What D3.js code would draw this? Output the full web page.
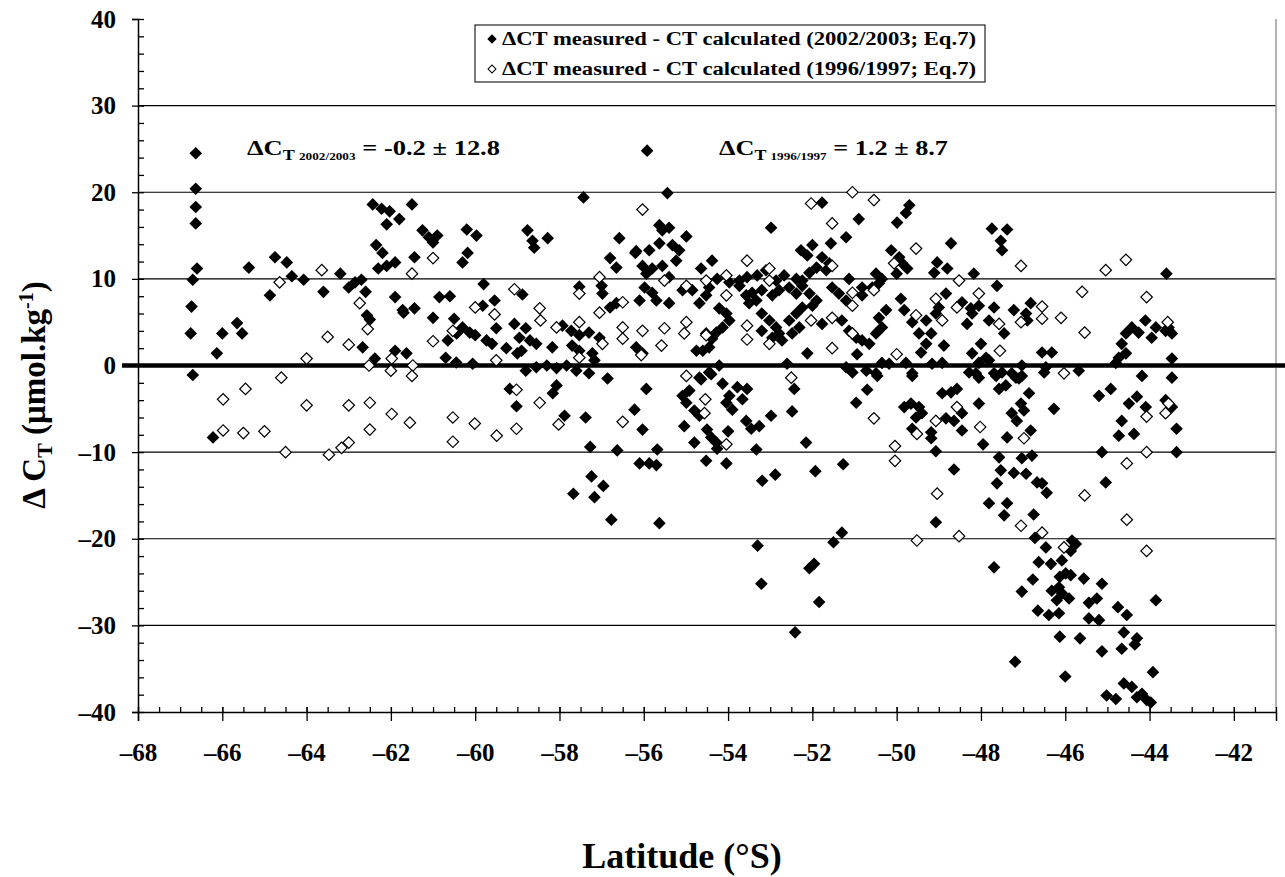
<!DOCTYPE html>
<html lang="en">
<head>
<meta charset="UTF-8">
<title>Delta CT vs latitude</title>
<script src="https://cdn.jsdelivr.net/npm/d3@7"></script>
<style>
  body { margin: 0; background: #fff; }
  text { font-family: "Liberation Serif", "Times New Roman", serif; font-weight: bold; fill: #000; }
</style>
</head>
<body>
<div id="chart"></div>
<script>
// ΔCT measured - CT calculated, 2002/2003 (filled diamonds) : [latitude, ΔCT]
const filled2002 = [
  [-66.63,24.5],[-66.63,20.4],[-66.63,18.3],[-66.63,16.4],[-66.6,11.2],[-66.7,9.9],[-66.73,6.8],[-66.75,3.7],[-66.7,-1.1],[-66.22,-8.3],
  [-66.13,1.4],[-66.0,3.7],[-65.65,4.9],[-65.53,3.7],[-65.37,11.3],[-64.87,8.1],[-64.75,12.5],[-64.47,11.9],[-64.35,10.3],[-64.07,9.9],
  [-63.6,8.5],[-63.2,10.6],[-63.0,9.0],[-62.85,9.6],[-62.7,9.9],[-62.6,8.5],[-62.57,5.8],[-62.5,5.3],[-62.67,2.1],[-62.38,0.8],
  [-62.43,18.6],[-62.22,18.1],[-62.03,17.8],[-62.1,16.3],[-61.8,16.9],[-62.35,13.9],[-62.2,13.0],[-62.3,11.2],[-62.1,11.5],[-61.9,11.9],
  [-61.9,7.9],[-61.7,6.1],[-61.44,6.6],[-61.9,1.7],[-61.63,1.4],[-61.5,18.6],[-61.44,12.5],[-61.25,15.6],[-61.1,14.8],[-60.9,15.0],
  [-61.0,5.5],[-60.85,7.9],[-60.7,0.9],[-60.65,2.9],[-61.0,14.2],[-60.2,15.7],[-59.97,15.0],[-60.18,13.0],[-60.3,11.9],[-58.76,15.6],
  [-58.64,14.4],[-58.6,13.6],[-58.28,14.7],[-57.43,19.4],[-56.58,14.7],[-56.8,12.4],[-56.65,11.3],[-56.2,13.0],[-59.8,9.4],[-61.72,6.4],
  [-60.6,8.0],[-60.5,5.4],[-59.82,6.9],[-59.54,7.5],[-58.88,8.2],[-57.53,9.1],[-57.0,9.2],[-56.98,8.3],[-56.8,6.7],[-56.65,7.2],
  [-60.3,4.4],[-60.44,3.7],[-60.13,3.8],[-60.0,3.5],[-59.73,2.9],[-59.5,4.3],[-59.6,2.5],[-59.07,4.8],[-58.8,4.3],[-58.95,3.2],
  [-58.7,2.9],[-58.55,2.5],[-59.26,2.0],[-59.0,1.4],[-58.9,1.7],[-58.17,2.1],[-57.93,4.6],[-57.72,4.0],[-57.53,3.5],[-57.3,3.8],
  [-57.05,3.2],[-57.7,2.3],[-57.53,1.7],[-57.22,1.4],[-57.17,0.6],[-60.45,0.35],[-60.06,0.2],[-58.8,-0.6],[-58.55,-0.2],[-58.3,0],
  [-58.07,-0.3],[-57.83,0],[-57.6,-0.6],[-57.3,-0.9],[-56.86,-1.5],
  [-55.92,24.8],[-55.44,19.9],[-51.77,18.8],[-50.9,16.9],[-52.98,15.9],[-55.63,16.2],[-55.4,15.9],[-55.56,15.6],[-54.99,14.9],[-51.2,14.8],
  [-56.18,13.2],[-55.87,13.3],[-55.63,14.1],[-55.32,13.9],[-55.16,13.3],[-55.23,12.1],[-56.03,11.5],[-55.94,10.6],[-55.8,11.2],[-55.56,11.5],
  [-55.4,10.2],[-54.64,11.2],[-54.38,12.1],[-52.27,13.3],[-52.0,13.9],[-52.12,12.7],[-51.56,14.1],[-51.77,12.5],[-51.6,11.8],[-51.67,11.0],
  [-51.9,11.3],[-52.07,10.7],[-52.24,9.8],[-54.26,10.0],[-53.97,9.6],[-53.73,9.8],[-53.55,10.2],[-53.31,10.4],[-53.1,11.0],[-52.86,9.8],
  [-52.67,10.4],[-52.38,10.0],[-51.13,10.0],[-50.82,9.0],[-50.49,10.6],[-50.35,10.0],[-55.98,9.0],[-55.8,8.4],[-56.1,7.5],[-55.7,7.5],
  [-55.4,7.2],[-55.08,8.7],[-54.85,8.7],[-54.68,7.2],[-54.52,8.1],[-54.45,9.0],[-53.73,9.2],[-53.57,8.1],[-53.43,8.4],[-53.2,8.7],
  [-53.33,7.5],[-53.5,7.2],[-52.95,8.1],[-52.79,8.7],[-52.55,9.0],[-52.38,8.3],[-52.24,9.2],[-52.07,8.3],[-51.9,7.5],[-52.0,6.9],
  [-51.53,9.0],[-51.37,8.3],[-51.2,7.5],[-50.82,8.1],[-50.58,9.0],[-54.21,6.6],[-54.04,6.0],[-53.97,5.2],[-54.13,4.4],[-54.28,3.8],
  [-54.38,3.1],[-54.45,2.1],[-54.6,1.7],[-54.75,1.7],[-54.52,3.7],[-53.2,6.0],[-53.02,5.2],[-52.86,4.4],[-52.79,3.7],[-52.72,2.9],
  [-52.95,3.2],[-53.2,4.0],[-52.55,5.2],[-52.38,6.0],[-52.24,6.7],[-52.31,4.4],[-52.48,3.7],[-51.77,4.8],[-51.3,5.2],[-51.13,4.0],
  [-50.96,3.2],[-50.82,2.9],[-50.65,2.5],[-50.49,3.7],[-50.35,4.4],[-50.42,5.5],[-50.25,6.4],[-56.18,2.1],[-56.03,1.4],[-52.12,1.4],
  [-50.94,1.3],[-54.21,0],[-54.45,-0.8],[-54.68,-1.4],[-52.6,0.2],[-51.2,-0.2],[-51.05,-0.8],[-50.72,-0.6],[-50.49,-0.9],[-50.35,0.3],
  [-49.7,18.5],[-49.78,17.6],[-49.99,16.5],[-47.74,15.8],[-47.38,15.7],[-47.53,14.4],[-47.5,13.3],[-48.71,14.1],[-50.13,13.3],[-49.94,12.5],
  [-49.87,11.8],[-49.75,11.2],[-50.0,10.6],[-49.04,11.9],[-49.11,10.7],[-48.8,11.2],[-48.17,10.6],[-43.6,10.6],[-50.42,9.5],[-47.62,9.2],
  [-49.9,7.7],[-49.82,6.4],[-48.83,8.3],[-49.0,6.7],[-49.07,6.0],[-49.3,5.2],[-49.63,5.0],[-49.47,3.7],[-49.18,3.7],[-49.3,2.5],
  [-49.42,1.5],[-48.88,2.3],[-48.45,7.3],[-48.24,6.6],[-48.05,6.9],[-48.21,6.0],[-48.33,4.8],[-47.81,5.2],[-47.69,6.7],[-47.45,3.7],
  [-48.0,2.5],[-48.21,1.4],[-47.88,0.9],[-47.22,6.4],[-46.93,6.0],[-46.82,7.2],[-46.9,5.2],[-46.55,1.5],[-46.32,1.5],[-44.56,3.7],
  [-44.42,4.4],[-44.26,3.8],[-44.1,5.2],[-43.85,4.4],[-43.95,3.2],[-43.62,4.0],[-43.47,3.7],[-43.55,4.4],[-44.66,2.5],[-44.56,1.4],
  [-44.73,0.9],[-44.8,0.3],[-43.47,0.8],[-50.18,0.2],[-49.78,0.3],[-49.16,0.2],[-48.92,0.3],[-48.05,0.3],[-47.81,0.6],[-47.03,0],
  [-46.46,-0.2],[-45.68,-0.6],[-49.63,-0.9],[-48.28,-0.8],[-48.05,-1.4],[-47.64,-1.2],[-47.17,-1.4],[-47.03,-1.2],[-44.18,-1.2],[-43.47,-1.4],
  [-55.94,-2.7],[-54.64,-1.6],[-54.4,-1.0],[-54.13,-2.1],[-53.78,-2.5],[-53.55,-2.7],[-53.97,-3.5],[-54.04,-4.3],[-53.66,-3.9],[-53.9,-5.1],
  [-55.08,-3.5],[-54.92,-2.9],[-54.99,-4.3],[-54.8,-5.2],[-54.68,-5.8],[-56.22,-5.1],[-56.03,-7.4],[-55.04,-7.0],[-54.5,-7.4],[-54.4,-8.3],
  [-54.28,-8.9],[-54.26,-9.6],[-54.8,-8.9],[-54.0,-7.6],[-53.57,-6.4],[-53.45,-7.3],[-53.26,-7.0],[-52.98,-5.8],[-52.43,-2.7],[-52.48,-5.3],
  [-53.33,-9.7],[-52.15,-8.9],[-50.96,-4.3],[-50.7,-2.8],[-50.46,-1.2],[-55.68,-9.7],[-56.1,-11.3],[-55.87,-11.3],[-55.7,-11.5],[-54.52,-11.0],
  [-54.04,-11.3],[-53.19,-13.3],[-52.88,-12.6],[-51.93,-12.2],[-51.27,-11.4],[-55.63,-18.2],[-53.3,-20.8],[-51.5,-20.4],[-51.3,-19.3],[-51.96,-22.9],
  [-52.07,-23.4],[-59.18,-2.7],[-59.02,-4.7],[-58.16,-3.2],[-58.07,-2.3],[-57.88,-5.8],[-57.38,-6.0],[-57.27,-9.4],[-56.63,-9.8],[-57.24,-12.8],
  [-56.96,-13.9],[-57.67,-14.8],[-57.17,-15.2],[-56.77,-17.8],[-53.21,-25.2],[-52.41,-30.8],[-51.84,-27.3],
  [-49.63,-1.2],[-48.12,-0.9],[-47.69,-0.9],[-47.5,-0.8],[-47.27,-0.9],[-47.1,-1.5],[-47.41,-2.3],[-47.57,-2.7],[-46.86,-3.2],[-46.5,-0.8],
  [-48.92,-3.2],[-48.71,-3.1],[-48.57,-2.7],[-49.82,-4.8],[-49.66,-4.4],[-49.47,-4.8],[-49.4,-5.5],[-49.54,-6.0],[-49.63,-7.3],[-49.18,-7.7],
  [-49.18,-8.4],[-48.83,-6.1],[-48.64,-6.4],[-48.45,-5.5],[-48.45,-7.5],[-48.05,-4.4],[-47.38,-8.3],[-47.05,-4.4],[-46.98,-5.2],[-47.27,-5.5],
  [-47.15,-6.4],[-46.82,-7.5],[-46.27,-5.0],[-47.95,-9.1],[-49.07,-9.9],[-48.64,-12.0],[-47.57,-10.6],[-47.53,-12.1],[-47.22,-12.4],[-46.93,-12.5],
  [-47.03,-10.7],[-46.79,-10.4],[-47.62,-13.6],[-46.67,-13.5],[-46.55,-13.6],[-46.44,-14.7],[-47.81,-15.9],[-47.38,-15.9],[-47.45,-17.3],[-46.75,-17.2],
  [-49.07,-18.1],[-46.72,-19.9],[-46.46,-21.0],[-45.84,-20.2],[-45.75,-20.6],[-45.87,-21.4],[-46.63,-22.7],[-46.34,-22.9],[-46.08,-22.5],[-47.69,-23.3],
  [-45.13,-10.0],[-45.04,-13.5],[-45.2,-3.5],[-44.92,-2.7],[-44.49,-4.4],[-44.3,-3.6],[-44.09,-4.8],[-44.66,-6.4],[-44.73,-8.1],[-44.37,-7.9],
  [-43.62,-4.0],[-43.47,-4.8],[-43.36,-7.3],[-43.36,-10.0],
  [-46.13,-24.4],[-45.99,-24.0],[-45.87,-24.2],[-46.32,-26.0],[-46.15,-25.6],[-46.08,-26.3],[-46.2,-27.1],[-45.91,-26.9],[-45.56,-24.6],[-45.13,-25.2],
  [-45.44,-27.4],[-45.25,-26.9],[-46.65,-28.3],[-46.39,-28.8],[-46.15,-28.6],[-45.44,-29.2],[-45.2,-29.4],[-44.75,-27.9],[-44.54,-28.8],[-43.85,-27.1],
  [-44.61,-30.8],[-44.3,-31.5],[-44.35,-32.2],[-46.13,-31.3],[-45.65,-31.5],[-45.13,-33.0],[-44.66,-32.7],[-47.19,-34.2],[-46.0,-35.9],[-43.92,-35.4],
  [-44.61,-36.7],[-44.42,-37.1],[-45.02,-38.1],[-44.8,-38.5],[-44.3,-38.3],[-44.18,-37.9],[-44.07,-38.6],[-43.97,-38.9],[-47.03,-26.1],[-46.77,-24.7]
];

// ΔCT measured - CT calculated, 1996/1997 (open diamonds) : [latitude, ΔCT]
const open1996 = [
  [-64.64,9.6],[-63.64,11.0],[-63.5,3.3],[-64.0,0.8],[-63.0,2.4],[-62.74,7.2],[-62.55,4.2],[-61.98,0.8],[-61.5,10.6],[-61.0,12.4],
  [-61.0,2.8],[-62.52,0.0],[-61.48,0.0],[-64.6,-1.4],[-65.98,-3.9],[-65.45,-2.7],[-65.98,-7.5],[-65.5,-7.8],[-65.0,-7.6],[-64.5,-10.0],
  [-64.0,-4.6],[-63.47,-10.3],[-63.17,-9.5],[-63.0,-8.9],[-63.0,-4.6],[-62.5,-4.3],[-62.5,-7.4],[-61.98,-5.6],[-61.55,-6.6],[-62.0,-0.6],
  [-61.5,-1.2],[-59.07,8.8],[-60.0,6.7],[-59.54,5.9],[-58.47,6.6],[-58.45,5.2],[-57.53,8.3],[-57.05,6.1],[-56.5,7.3],[-56.5,4.4],
  [-56.5,3.1],[-60.53,4.0],[-59.5,0.6],[-58.07,4.4],[-57.53,5.0],[-57.53,0.9],[-56.98,2.5],[-57.05,10.2],
  [-56.03,18.0],[-52.03,18.7],[-51.05,20.0],[-50.54,19.1],[-51.53,16.4],[-53.55,12.1],[-53.02,11.2],[-55.51,9.8],[-54.04,10.4],[-54.99,9.2],
  [-54.52,9.8],[-53.02,9.8],[-51.53,11.5],[-54.04,8.1],[-51.05,8.4],[-50.54,8.7],[-51.05,6.9],[-56.03,4.0],[-55.51,4.3],[-54.99,5.0],
  [-55.04,3.7],[-55.58,2.3],[-56.06,1.2],[-54.52,3.5],[-53.55,4.6],[-53.55,3.0],[-53.02,2.5],[-52.03,5.2],[-51.53,5.5],[-51.53,2.0],
  [-51.05,3.7],[-54.99,-1.2],[-52.5,-1.4],
  [-49.54,13.5],[-50.06,11.8],[-47.05,11.5],[-44.56,12.2],[-45.04,11.0],[-48.52,9.8],[-48.05,8.3],[-49.07,7.7],[-48.57,6.7],[-48.92,5.2],
  [-49.54,5.8],[-47.57,4.8],[-47.05,5.0],[-46.55,6.8],[-46.55,5.4],[-46.1,5.5],[-45.6,8.5],[-45.54,3.8],[-44.07,7.9],[-43.57,5.0],
  [-50.0,1.3],[-47.55,1.7],[-46.03,-0.9],
  [-54.54,-3.9],[-54.56,-5.5],[-54.04,-9.1],[-50.54,-6.1],
  [-60.53,-6.0],[-60.53,-8.8],[-60.01,-6.7],[-59.49,-8.1],[-59.02,-2.8],[-59.02,-7.3],[-58.47,-4.3],[-58.02,-6.8],[-56.5,-6.5],
  [-48.57,-4.8],[-49.07,-6.4],[-49.52,-7.9],[-48.02,-7.1],[-46.98,-8.4],[-50.04,-9.3],[-50.04,-11.0],[-49.04,-14.8],[-49.52,-20.2],[-48.52,-19.7],
  [-47.05,-18.5],[-46.55,-19.3],[-46.03,-21.0],[-45.54,-15.0],[-44.54,-11.3],[-44.54,-17.8],[-44.07,-5.9],[-43.62,-5.5],[-44.07,-10.0],[-44.07,-21.4],
  [-43.55,-4.4]
];

const xMajorTicks = d3.range(-68, -41, 2);
const xMinorTicks = d3.range(-68, -40.9, 0.5);
const yMajorTicks = d3.range(-40, 41, 10);
const yMinorTicks = d3.range(-40, 41, 2);
const gridValues = [-30, -20, -10, 10, 20, 30];
const legendLabels = [
  "\u0394CT measured - CT calculated (2002/2003; Eq.7)",
  "\u0394CT measured - CT calculated (1996/1997; Eq.7)"
];

const width = 1285, height = 877;
const plotLeft = 138, plotRight = 1276, plotTop = 19, plotBottom = 712;

const x = d3.scaleLinear().domain([-68, -41]).range([plotLeft, plotRight]);
const y = d3.scaleLinear().domain([-40, 40]).range([plotBottom, plotTop]);
const fmt = d => d < 0 ? "\u2013" + Math.abs(d) : String(d);

const svg = d3.select("#chart").append("svg")
    .attr("width", width)
    .attr("height", height)
    .style("background", "#fff");

// gridlines
svg.append("g")
  .selectAll("line")
  .data(gridValues)
  .join("line")
    .attr("x1", plotLeft).attr("x2", plotRight)
    .attr("y1", d => y(d)).attr("y2", d => y(d))
    .attr("stroke", "#000").attr("stroke-width", 1.2);

// right frame
svg.append("line")
    .attr("x1", plotRight).attr("x2", plotRight)
    .attr("y1", plotTop).attr("y2", plotBottom)
    .attr("stroke", "#999").attr("stroke-width", 1.5);

// y axis, major ticks outside and minor inside
const yAxis = svg.append("g")
    .attr("transform", `translate(${plotLeft},0)`)
    .call(d3.axisLeft(y).tickValues(yMajorTicks).tickSize(6).tickPadding(16).tickFormat(fmt));
yAxis.selectAll("text").style("font-size", "25px");
svg.append("g")
    .attr("transform", `translate(${plotLeft},0)`)
    .call(d3.axisRight(y).tickValues(yMinorTicks).tickSize(6).tickFormat(""))
    .call(g => g.select(".domain").remove());

// x axis, major ticks crossing and minor inside
const xAxis = svg.append("g")
    .attr("transform", `translate(0,${plotBottom})`)
    .call(d3.axisBottom(x).tickValues(xMajorTicks).tickSize(9).tickPadding(22).tickFormat(fmt));
xAxis.selectAll(".tick line").attr("y1", -5);
xAxis.selectAll("text").style("font-size", "25px");
svg.append("g")
    .attr("transform", `translate(0,${plotBottom})`)
    .call(d3.axisTop(x).tickValues(xMinorTicks).tickSize(5).tickFormat(""))
    .call(g => g.select(".domain").remove());

svg.selectAll(".domain").attr("stroke-width", 1.5);
svg.selectAll(".tick line").attr("stroke-width", 1.3);

// zero line
svg.append("line")
    .attr("x1", 122).attr("x2", width)
    .attr("y1", y(0)).attr("y2", y(0))
    .attr("stroke", "#000").attr("stroke-width", 4.5);

// points
const diamondFilled = d3.symbol(d3.symbolSquare, 80);
const diamondOpen = d3.symbol(d3.symbolSquare, 66);

svg.append("g")
  .selectAll("path")
  .data(filled2002)
  .join("path")
    .attr("d", diamondFilled)
    .attr("transform", d => `translate(${x(d[0])},${y(d[1])}) rotate(45)`)
    .attr("fill", "#000");

svg.append("g")
  .selectAll("path")
  .data(open1996)
  .join("path")
    .attr("d", diamondOpen)
    .attr("transform", d => `translate(${x(d[0])},${y(d[1])}) rotate(45)`)
    .attr("fill", "#fff")
    .attr("stroke", "#000")
    .attr("stroke-width", 1.2);

// legend
const legend = svg.append("g");
legend.append("rect")
    .attr("x", 475).attr("y", 25).attr("width", 510).attr("height", 57)
    .attr("fill", "#fff").attr("stroke", "#222").attr("stroke-width", 1.2);
legendLabels.forEach((label, i) => {
  const cy = 39 + i * 30;
  legend.append("path")
      .attr("d", d3.symbol(d3.symbolSquare, 32))
      .attr("transform", `translate(492,${cy}) rotate(45)`)
      .attr("fill", i === 0 ? "#000" : "#fff")
      .attr("stroke", "#000").attr("stroke-width", 1);
  legend.append("text")
      .attr("x", 502).attr("y", cy + 6)
      .attr("textLength", 474)
      .attr("lengthAdjust", "spacingAndGlyphs")
      .style("font-size", "18px")
      .text(label);
});

// statistics annotations
function stat(xPos, years, value, len) {
  const t = svg.append("text").attr("x", xPos).attr("y", 155)
      .attr("textLength", len).attr("lengthAdjust", "spacingAndGlyphs")
      .style("font-size", "22px");
  t.append("tspan").text("\u0394C");
  t.append("tspan").attr("dy", 5).style("font-size", "15px").text("T ");
  t.append("tspan").style("font-size", "11px").text(years);
  t.append("tspan").attr("dy", -5).text(" = " + value);
}
stat(247, "2002/2003", "-0.2 \u00b1 12.8", 253);
stat(719, "1996/1997", "1.2 \u00b1 8.7", 229);

// axis titles
const yTitle = svg.append("text")
    .attr("transform", "translate(45,395) rotate(-90)")
    .attr("text-anchor", "middle")
    .style("font-size", "33px");
yTitle.append("tspan").text("\u0394 C");
yTitle.append("tspan").attr("dy", 7).style("font-size", "22px").text("T");
yTitle.append("tspan").attr("dy", -7).text(" (\u03bcmol.kg");
yTitle.append("tspan").attr("dy", -12).style("font-size", "20px").text("-1");
yTitle.append("tspan").attr("dy", 12).text(")");

svg.append("text")
    .attr("x", 682).attr("y", 868)
    .attr("text-anchor", "middle")
    .style("font-size", "36px")
    .text("Latitude (\u00b0S)");
</script>
</body>
</html>
